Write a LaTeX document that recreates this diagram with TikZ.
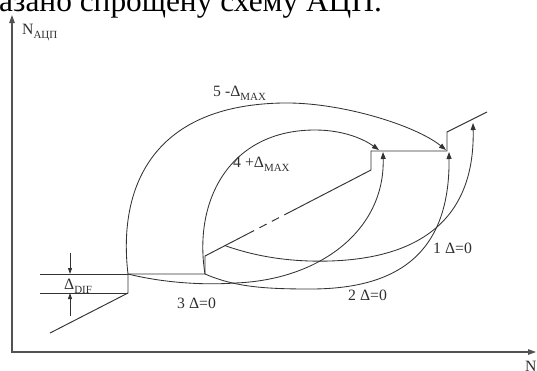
\documentclass[tikz,border=0pt]{standalone}
\usepackage{fontspec}
\setmainfont{Liberation Serif}
\usetikzlibrary{arrows.meta}
\definecolor{ink}{HTML}{2E2E2E}
\definecolor{lin}{HTML}{333333}
\newcommand\lowsub[1]{\raisebox{-0.28em}{\fontsize{11}{11}\selectfont #1}}
\begin{document}
\begin{tikzpicture}[x=1bp,y=-1bp,
  axis/.style={line width=1.2bp, draw=lin!85, {Triangle[length=8bp,width=5.5bp]}-{Triangle[length=8bp,width=5.5bp]}},
  stair/.style={line width=0.95bp, draw=lin},
  curve/.style={line width=0.85bp, draw=lin, -{Triangle[length=7bp,width=5bp]}},
  dimarrow/.style={line width=0.85bp, draw=lin, -{Triangle[length=6bp,width=4bp]}},
  lbl/.style={text=ink, font=\fontsize{15.8}{16}\selectfont, inner sep=0pt, anchor=base west},
  ]
\useasboundingbox (0,0) rectangle (537,370);
\begin{scope}
  \clip (0,0) rectangle (537,370);
  \node[lbl, font=\fontsize{31.5}{32}\selectfont, text=black] (cap) at (-1,11) {азано спрощену схему АЦП.};
  \node[lbl] (xl) at (525,371) {N};
\end{scope}
% axes
\coordinate (O) at (12,352);
\coordinate (Ytip) at (12,15);
\coordinate (Xtip) at (536,352);
\draw[axis] (Ytip) -- (O) -- (Xtip);
% staircase points
\coordinate (L0) at (50,333);
\coordinate (A) at (128,293);
\coordinate (B) at (128,274);
\coordinate (C) at (205,274);
\coordinate (D) at (205,256);
\coordinate (E) at (247,234.2);
\coordinate (F) at (287,213.5);
\coordinate (G) at (371,170);
\coordinate (H) at (371,151);
\coordinate (I) at (447,151);
\coordinate (J) at (447,132);
\coordinate (K) at (487,112);
\coordinate (DL1) at (40,274);
\coordinate (DL2) at (40,293);
\draw[stair] (L0) -- (A) -- (B) -- (C) -- (D) -- (E);
\draw[stair, dash pattern=on 8bp off 6bp] (E) -- (F);
\draw[stair] (F) -- (G) -- (H) -- (I) -- (J) -- (K);
\draw[stair] (DL1) -- (B);
\draw[stair] (DL2) -- (A);
% dimension arrows
\coordinate (da1) at (70,253);
\coordinate (da1e) at (70,274);
\coordinate (da2) at (70,316);
\coordinate (da2e) at (70,293);
\draw[dimarrow] (da1) -- (da1e);
\draw[dimarrow] (da2) -- (da2e);
% curve endpoints
\coordinate (S1) at (225,245.6);
\coordinate (T1) at (473,123);
\coordinate (T2) at (449,152);
\coordinate (T3) at (383,152);
\coordinate (T4) at (379,150);
\coordinate (T5) at (446,150);
\draw[curve] (S1) .. controls (260,258) and (295,262) .. (330,261) .. controls (425,258) and (475,215) .. (T1);
\draw[curve] (C) .. controls (235,287) and (265,289) .. (310,289) .. controls (390,289) and (450,260) .. (T2);
\draw[curve] (B) .. controls (160,282) and (200,285.5) .. (235,283) .. controls (320,280) and (385,230) .. (T3);
\draw[curve] (C) .. controls (193,200) and (230,130) .. (315,130) .. controls (345,130) and (365,140) .. (T4);
\draw[curve] (B) .. controls (118,190) and (150,105) .. (283,103) .. controls (340,102) and (415,125) .. (T5);
% labels
\node[lbl] (ny) at (22,34) {N\lowsub{АЦП}};
\node[lbl] (ddif) at (64,289) {Δ\lowsub{DIF}};
\node[lbl] (l3) at (177,308) {3 Δ=0};
\node[lbl] (l2) at (348,300) {2 Δ=0};
\node[lbl] (l1) at (433,253) {1 Δ=0};
\node[lbl] (l5) at (213,96) {5 -Δ\lowsub{MAX}};
\node[lbl] (l4) at (233,167) {4 +Δ\lowsub{MAX}};
\end{tikzpicture}
\end{document}
